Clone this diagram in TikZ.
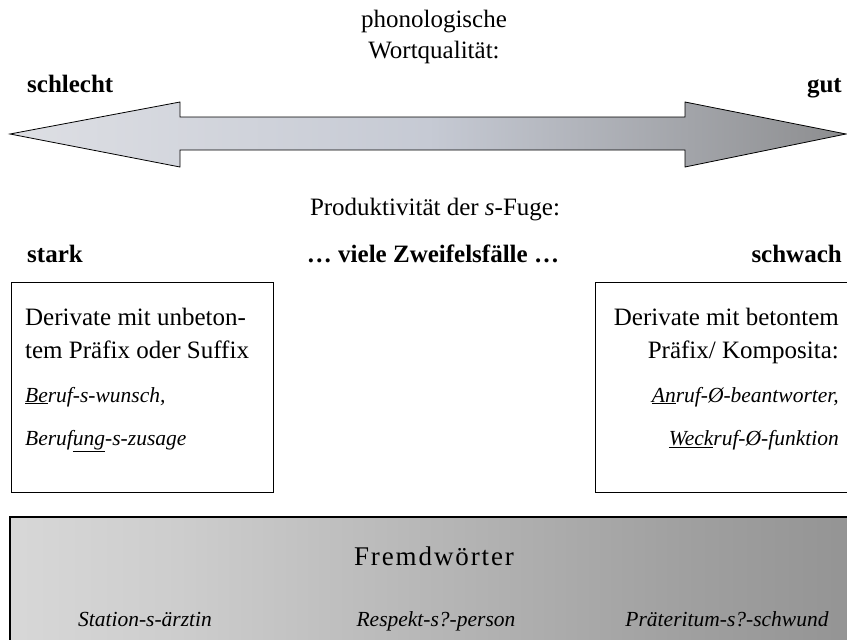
\documentclass[tikz,border=0pt]{standalone}
\usepackage{fontspec}
\setmainfont{Liberation Serif}
\usepackage{tikz}
\usetikzlibrary{positioning}

\definecolor{wortLight}{RGB}{240,240,241}
\definecolor{wortBase}{RGB}{226,227,231}
\definecolor{wortMid}{RGB}{198,202,212}
\definecolor{wortDark}{RGB}{127,127,127}
\definecolor{fremdLight}{RGB}{242,242,242}
\definecolor{fremdMid}{RGB}{205,205,205}
\definecolor{fremdDeep}{RGB}{160,160,160}
\definecolor{fremdDark}{RGB}{118,118,118}

\pgfdeclarehorizontalshading{wortshade}{100bp}{%
  color(0bp)=(wortLight); color(20bp)=(wortBase); color(50bp)=(wortMid);
  color(81bp)=(wortDark); color(100bp)=(wortDark)}
\pgfdeclarehorizontalshading{fremdshade}{100bp}{%
  color(0bp)=(fremdLight); color(35bp)=(fremdMid); color(65bp)=(fremdDeep); color(100bp)=(fremdDark)}

\begin{document}
\begin{tikzpicture}
[x=1pt, y=-1pt,
 txt/.style={inner sep=0pt, anchor=base, font=\fontsize{25}{33}\selectfont},
 head/.style={txt, font=\fontsize{25}{33}\selectfont\bfseries},
 beispiel/.style={txt, font=\fontsize{21.5}{33}\selectfont\itshape},
 sperr/.style={txt, font=\fontsize{27}{33}\selectfont\addfontfeature{LetterSpace=7}},
 typeBox/.style={rectangle, draw, thick, fill=white, inner sep=0pt},
 wortArrow/.style={draw, thick, shading=wortshade},
 fremdBox/.style={draw, very thick, shading=fremdshade}]
\useasboundingbox (0,0) rectangle (847,640);
% Titel oben
\node[txt] (titel1) at (434, 27) {phonologische};
\node[txt] (titel2) at (434, 58) {Wortqualit\"at:};
\node[head, anchor=base west] (schlecht) at ( 27, 92) {schlecht};
\node[head, anchor=base east] (gut)      at (842, 92) {gut};
% Doppelpfeil
\path[wortArrow] (10,134) -- (180,102) -- (180,117) -- (685,117) -- (685,102)
      -- (846,134) -- (685,167) -- (685,150) -- (180,150) -- (180,167) -- cycle;
% Produktivitaet
\node[txt] (prod) at (435, 215) {Produktivit\"at der \textit{s}-Fuge:};
\node[head, anchor=base west] (stark)   at ( 27, 262) {stark};
\node[head]                   (zweifel) at (433, 262) {\dots{} viele Zweifelsf\"alle \dots};
\node[head, anchor=base east] (schwach) at (842, 262) {schwach};
% Kaesten
\node[typeBox, minimum width=262pt, minimum height=210pt] (links)  at (142, 387) {};
\node[typeBox, minimum width=260pt, minimum height=210pt] (rechts) at (725, 387) {};
\node[txt, anchor=base west]      (l1) at ( 25, 325) {Derivate mit unbeton-};
\node[txt, anchor=base west]      (l2) at ( 25, 358) {tem Pr\"afix oder Suffix};
\node[beispiel, anchor=base west] (l3) at ( 25, 402) {\underline{Be}ruf-s-wunsch,};
\node[beispiel, anchor=base west] (l4) at ( 25, 445) {Beruf\underline{ung}-s-zusage};
\node[txt, anchor=base east]      (r1) at (839, 325) {Derivate mit betontem};
\node[txt, anchor=base east]      (r2) at (839, 358) {Pr\"afix/ Komposita:};
\node[beispiel, anchor=base east] (r3) at (839, 402) {\underline{An}ruf-\O-beantworter,};
\node[beispiel, anchor=base east] (r4) at (839, 445) {\underline{Weck}ruf-\O-funktion};
% Fremdwoerter
\path[fremdBox] (10,517) rectangle (852,660);
\node[sperr]    (fremd) at (434, 565) {Fremdw\"orter};
\node[beispiel] (f1)    at (145, 626) {Station-s-\"arztin};
\node[beispiel] (f2)    at (436, 626) {Respekt-s?-person};
\node[beispiel] (f3)    at (727, 626) {Pr\"ateritum-s?-schwund};
\end{tikzpicture}
\end{document}
